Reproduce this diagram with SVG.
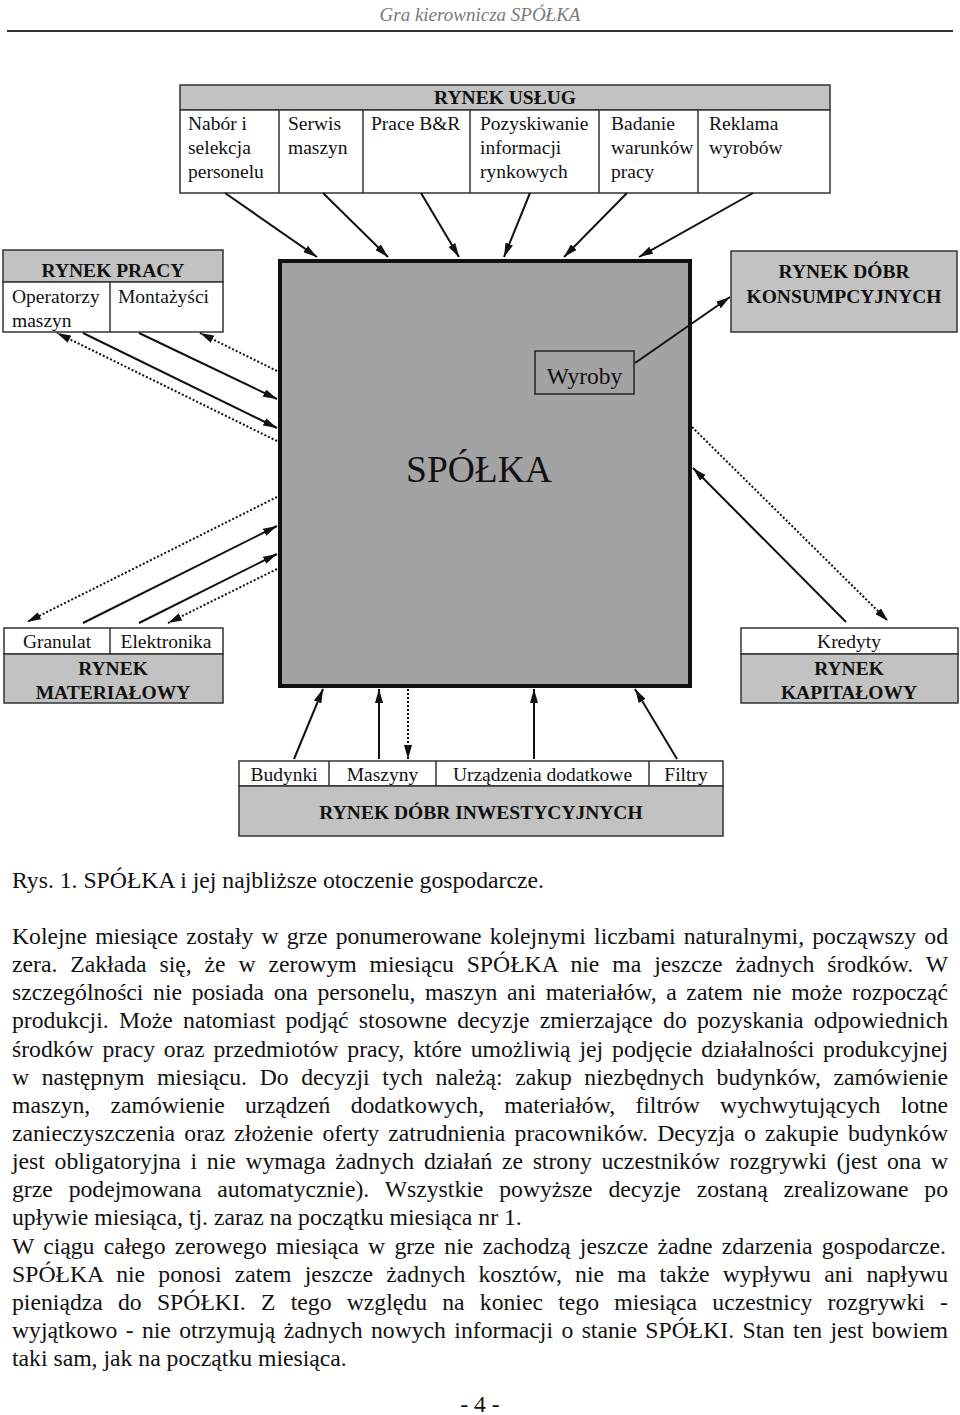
<svg xmlns="http://www.w3.org/2000/svg" width="960" height="1415" viewBox="0 0 960 1415">
<style>
.bg{fill:#ffffff}
.cell{fill:#ffffff;stroke:#333;stroke-width:1.5}
.hdr{fill:#c2c2c2;stroke:#333;stroke-width:1.5}
.t{font-family:"Liberation Serif","Times New Roman",serif;font-size:19.5px;fill:#111}
.b{font-family:"Liberation Serif","Times New Roman",serif;font-size:19.5px;font-weight:bold;fill:#111}
.body{font-family:"Liberation Serif","Times New Roman",serif;font-size:23.7px;fill:#111}
.solid{stroke:#111;stroke-width:2;fill:none}
.dot{stroke:#111;stroke-width:2;stroke-dasharray:2,2;fill:none}
</style>
<defs>
<marker id="arr" viewBox="0 0 14 8" refX="14" refY="4" markerWidth="14" markerHeight="8" markerUnits="userSpaceOnUse" orient="auto">
<path d="M0,0 L14,4 L0,8 z" fill="#111"/>
</marker>
</defs>
<rect class="bg" x="0" y="0" width="960" height="1415"/>

<g id="page-header">
<text x="480" y="21" text-anchor="middle" font-family="'Liberation Serif',serif" font-style="italic" font-size="19px" fill="#7a7a7a">Gra kierownicza SPÓŁKA</text>
<line x1="7" y1="31" x2="953" y2="31" stroke="#333" stroke-width="2"/>
</g>

<g id="rynek-uslug">
<rect class="hdr" x="180" y="85" width="650" height="25"/>
<rect class="cell" x="180" y="110" width="650" height="83"/>
<line class="cell" x1="279" y1="110" x2="279" y2="193"/>
<line class="cell" x1="363" y1="110" x2="363" y2="193"/>
<line class="cell" x1="470" y1="110" x2="470" y2="193"/>
<line class="cell" x1="599" y1="110" x2="599" y2="193"/>
<line class="cell" x1="698" y1="110" x2="698" y2="193"/>
<text class="b" x="505" y="104" text-anchor="middle">RYNEK USŁUG</text>
<text class="t" x="188" y="130">Nabór i</text>
<text class="t" x="188" y="154">selekcja</text>
<text class="t" x="188" y="178">personelu</text>
<text class="t" x="288" y="130">Serwis</text>
<text class="t" x="288" y="154">maszyn</text>
<text class="t" x="371" y="130">Prace B&amp;R</text>
<text class="t" x="480" y="130">Pozyskiwanie</text>
<text class="t" x="480" y="154">informacji</text>
<text class="t" x="480" y="178">rynkowych</text>
<text class="t" x="611" y="130">Badanie</text>
<text class="t" x="611" y="154">warunków</text>
<text class="t" x="611" y="178">pracy</text>
<text class="t" x="709" y="130">Reklama</text>
<text class="t" x="709" y="154">wyrobów</text>
</g>

<g id="rynek-pracy">
<rect class="hdr" x="3" y="250" width="220" height="32"/>
<rect class="cell" x="3" y="282" width="220" height="50"/>
<line class="cell" x1="110" y1="282" x2="110" y2="332"/>
<text class="b" x="113" y="277" text-anchor="middle">RYNEK PRACY</text>
<text class="t" x="12" y="303">Operatorzy</text>
<text class="t" x="12" y="327">maszyn</text>
<text class="t" x="118" y="303">Montażyści</text>
</g>

<g id="spolka">
<rect x="280" y="261" width="410" height="425" fill="#a3a3a3" stroke="#111" stroke-width="4"/>
<text x="479" y="482" text-anchor="middle" font-family="'Liberation Serif',serif" font-size="37.5px" fill="#111">SPÓŁKA</text>
</g>

<g id="wyroby">
<rect x="535" y="351" width="99" height="43" fill="#a3a3a3" stroke="#222" stroke-width="1.5"/>
<text x="584.5" y="384" text-anchor="middle" font-family="'Liberation Serif',serif" font-size="23.5px" fill="#111">Wyroby</text>
</g>

<g id="rynek-dobr-konsumpcyjnych">
<rect class="hdr" x="731" y="251" width="226" height="81"/>
<text class="b" x="844" y="278" text-anchor="middle">RYNEK DÓBR</text>
<text class="b" x="844" y="303" text-anchor="middle">KONSUMPCYJNYCH</text>
</g>

<g id="rynek-materialowy">
<rect class="cell" x="4" y="628" width="219" height="26"/>
<rect class="hdr" x="4" y="654" width="219" height="49"/>
<line class="cell" x1="110" y1="628" x2="110" y2="654"/>
<text class="t" x="57" y="648" text-anchor="middle">Granulat</text>
<text class="t" x="166" y="648" text-anchor="middle">Elektronika</text>
<text class="b" x="113" y="675" text-anchor="middle">RYNEK</text>
<text class="b" x="113" y="699" text-anchor="middle">MATERIAŁOWY</text>
</g>

<g id="rynek-kapitalowy">
<rect class="cell" x="741" y="628" width="217" height="26"/>
<rect class="hdr" x="741" y="654" width="217" height="49"/>
<text class="t" x="849" y="648" text-anchor="middle">Kredyty</text>
<text class="b" x="849" y="675" text-anchor="middle">RYNEK</text>
<text class="b" x="849" y="699" text-anchor="middle">KAPITAŁOWY</text>
</g>

<g id="rynek-dobr-inwestycyjnych">
<rect class="cell" x="239" y="761" width="484" height="25"/>
<rect class="hdr" x="239" y="786" width="484" height="50"/>
<line class="cell" x1="329" y1="761" x2="329" y2="786"/>
<line class="cell" x1="436" y1="761" x2="436" y2="786"/>
<line class="cell" x1="649" y1="761" x2="649" y2="786"/>
<text class="t" x="284" y="781" text-anchor="middle">Budynki</text>
<text class="t" x="382.5" y="781" text-anchor="middle">Maszyny</text>
<text class="t" x="542.5" y="781" text-anchor="middle">Urządzenia dodatkowe</text>
<text class="t" x="686" y="781" text-anchor="middle">Filtry</text>
<text class="b" x="481" y="819" text-anchor="middle">RYNEK DÓBR INWESTYCYJNYCH</text>
</g>

<g id="connectors">
<line class="solid" x1="225" y1="193" x2="317" y2="257" marker-end="url(#arr)"/>
<line class="solid" x1="323" y1="193" x2="388" y2="257" marker-end="url(#arr)"/>
<line class="solid" x1="421" y1="193" x2="459" y2="257" marker-end="url(#arr)"/>
<line class="solid" x1="530" y1="193" x2="504" y2="257" marker-end="url(#arr)"/>
<line class="solid" x1="627" y1="193" x2="564" y2="257" marker-end="url(#arr)"/>
<line class="solid" x1="753" y1="193" x2="639" y2="257" marker-end="url(#arr)"/>

<line class="dot" x1="277" y1="441" x2="57" y2="333" marker-end="url(#arr)"/>
<line class="solid" x1="83" y1="333" x2="277" y2="428" marker-end="url(#arr)"/>
<line class="solid" x1="139" y1="333" x2="277" y2="399" marker-end="url(#arr)"/>
<line class="dot" x1="277" y1="371" x2="200" y2="333" marker-end="url(#arr)"/>

<line class="dot" x1="277" y1="497" x2="27" y2="622" marker-end="url(#arr)"/>
<line class="solid" x1="83" y1="623" x2="277" y2="526" marker-end="url(#arr)"/>
<line class="solid" x1="139" y1="623" x2="277" y2="554" marker-end="url(#arr)"/>
<line class="dot" x1="277" y1="569" x2="168" y2="623" marker-end="url(#arr)"/>

<line class="dot" x1="692" y1="427" x2="888" y2="621" marker-end="url(#arr)"/>
<line class="solid" x1="846" y1="622" x2="693" y2="468" marker-end="url(#arr)"/>

<line class="solid" x1="635" y1="363" x2="730" y2="297" marker-end="url(#arr)"/>

<line class="solid" x1="294" y1="759" x2="323" y2="689" marker-end="url(#arr)"/>
<line class="solid" x1="379" y1="759" x2="379" y2="689" marker-end="url(#arr)"/>
<line class="dot" x1="408" y1="689" x2="408" y2="759" marker-end="url(#arr)"/>
<line class="solid" x1="534" y1="759" x2="534" y2="689" marker-end="url(#arr)"/>
<line class="solid" x1="677" y1="759" x2="635" y2="689" marker-end="url(#arr)"/>
</g>

<g id="caption">
<text class="body" x="12" y="888">Rys. 1. SPÓŁKA i jej najbliższe otoczenie gospodarcze.</text>
</g>

<g id="body-text">
<text class="body" x="12" y="944" word-spacing="2.3" textLength="936" lengthAdjust="spacing">Kolejne miesiące zostały w grze ponumerowane kolejnymi liczbami naturalnymi, począwszy od</text>
<text class="body" x="12" y="972" word-spacing="7" textLength="936" lengthAdjust="spacing">zera. Zakłada się, że w zerowym miesiącu SPÓŁKA nie ma jeszcze żadnych środków. W</text>
<text class="body" x="12" y="1000" word-spacing="3.75" textLength="936" lengthAdjust="spacing">szczególności nie posiada ona personelu, maszyn ani materiałów, a zatem nie może rozpocząć</text>
<text class="body" x="12" y="1028" word-spacing="4.3" textLength="936" lengthAdjust="spacing">produkcji. Może natomiast podjąć stosowne decyzje zmierzające do pozyskania odpowiednich</text>
<text class="body" x="12" y="1057" word-spacing="3" textLength="936" lengthAdjust="spacing">środków pracy oraz przedmiotów pracy, które umożliwią jej podjęcie działalności produkcyjnej</text>
<text class="body" x="12" y="1085" word-spacing="6.7" textLength="936" lengthAdjust="spacing">w następnym miesiącu. Do decyzji tych należą: zakup niezbędnych budynków, zamówienie</text>
<text class="body" x="12" y="1113" word-spacing="14.3" textLength="936" lengthAdjust="spacing">maszyn, zamówienie urządzeń dodatkowych, materiałów, filtrów wychwytujących lotne</text>
<text class="body" x="12" y="1141" word-spacing="3.3" textLength="936" lengthAdjust="spacing">zanieczyszczenia oraz złożenie oferty zatrudnienia pracowników. Decyzja o zakupie budynków</text>
<text class="body" x="12" y="1169" word-spacing="3.77" textLength="936" lengthAdjust="spacing">jest obligatoryjna i nie wymaga żadnych działań ze strony uczestników rozgrywki (jest ona w</text>
<text class="body" x="12" y="1197" word-spacing="10" textLength="936" lengthAdjust="spacing">grze podejmowana automatycznie). Wszystkie powyższe decyzje zostaną zrealizowane po</text>
<text class="body" x="12" y="1225">upływie miesiąca, tj. zaraz na początku miesiąca nr 1.</text>
<text class="body" x="12" y="1254" word-spacing="3.3" textLength="934" lengthAdjust="spacing">W ciągu całego zerowego miesiąca w grze nie zachodzą jeszcze żadne zdarzenia gospodarcze.</text>
<text class="body" x="12" y="1282" word-spacing="7.3" textLength="936" lengthAdjust="spacing">SPÓŁKA nie ponosi zatem jeszcze żadnych kosztów, nie ma także wypływu ani napływu</text>
<text class="body" x="12" y="1310" word-spacing="9.3" textLength="936" lengthAdjust="spacing">pieniądza do SPÓŁKI. Z tego względu na koniec tego miesiąca uczestnicy rozgrywki -</text>
<text class="body" x="12" y="1338" word-spacing="2.46" textLength="936" lengthAdjust="spacing">wyjątkowo - nie otrzymują żadnych nowych informacji o stanie SPÓŁKI. Stan ten jest bowiem</text>
<text class="body" x="12" y="1366">taki sam, jak na początku miesiąca.</text>
</g>

<g id="page-footer">
<text class="body" x="480" y="1412" text-anchor="middle">- 4 -</text>
</g>
</svg>
